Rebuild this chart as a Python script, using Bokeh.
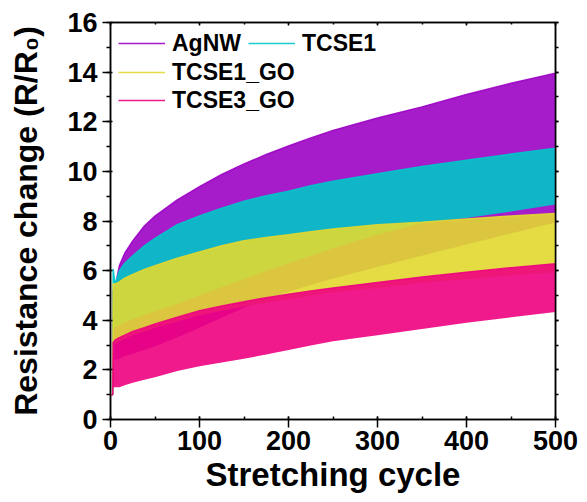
from bokeh.plotting import figure
from bokeh.models import (Range1d, LinearAxis, SingleIntervalTicker, Legend, LegendItem,
                          CustomJSTickFormatter)
from bokeh.embed import file_html
from bokeh.resources import INLINE

# ---- data ----
cycles = [0, 2.5, 3, 5, 10, 16, 25, 38, 50, 75, 100, 125, 150, 175, 200, 225, 250, 300, 350, 400, 450, 500]

agnw_low = [1, 1, 2.4, 2.4, 2.45, 2.55, 2.65, 2.8, 2.95, 3.3, 3.7, 4.1, 4.5, 4.85, 5.15, 5.42, 5.68, 6.15, 6.6, 7.05, 7.5, 7.94]
agnw_high = [1, 1, 5.2, 5.3, 6.2, 6.7, 7.2, 7.8, 8.2, 8.85, 9.38, 9.88, 10.3, 10.68, 11.02, 11.35, 11.65, 12.15, 12.6, 13.1, 13.55, 13.96]

tcse1_low = [1, 1, 3.7, 3.72, 3.8, 3.9, 4.05, 4.2, 4.35, 4.67, 5.0, 5.33, 5.65, 5.98, 6.3, 6.6, 6.9, 7.45, 7.92, 8.12, 8.38, 8.67]
tcse1_high = [1, 1, 6.07, 5.45, 6.0, 6.3, 6.6, 7.0, 7.3, 7.85, 8.2, 8.52, 8.8, 9.02, 9.2, 9.42, 9.6, 9.9, 10.2, 10.45, 10.7, 10.93]

tcse1go_low = [1, 1, 3.05, 3.05, 3.15, 3.25, 3.4, 3.55, 3.7, 3.95, 4.2, 4.38, 4.55, 4.7, 4.85, 4.99, 5.12, 5.3, 5.5, 5.65, 5.8, 5.92]
tcse1go_high = [1, 1, 5.48, 5.45, 5.55, 5.7, 5.85, 6.05, 6.2, 6.5, 6.75, 7.0, 7.2, 7.34, 7.45, 7.57, 7.68, 7.85, 7.95, 8.08, 8.2, 8.3]

tcse3go_low = [1, 1, 1.3, 1.3, 1.3, 1.38, 1.48, 1.6, 1.7, 1.95, 2.15, 2.3, 2.45, 2.62, 2.8, 2.98, 3.15, 3.4, 3.65, 3.9, 4.12, 4.33]
tcse3go_high = [1, 1, 3.1, 3.2, 3.3, 3.4, 3.55, 3.7, 3.85, 4.12, 4.38, 4.57, 4.75, 4.91, 5.05, 5.18, 5.3, 5.52, 5.74, 5.93, 6.12, 6.28]

names = ["AgNW", "TCSE1", "TCSE1_GO", "TCSE3_GO"]
colors = ["#9c02c4", "#00c7c8", "#e2d830", "#ee017f"]
lows = [agnw_low, tcse1_low, tcse1go_low, tcse3go_low]
highs = [agnw_high, tcse1_high, tcse1go_high, tcse3go_high]

FONT = "Liberation Sans"

p = figure(width=587, height=502, output_backend="svg", toolbar_location=None,
           x_range=Range1d(0, 500), y_range=Range1d(0, 16),
           min_border_left=110, min_border_right=32, min_border_top=22, min_border_bottom=83)
p.grid.visible = False
p.outline_line_color = "black"
p.outline_line_width = 1.5

lines = []
for name, c, lo, hi in zip(names, colors, lows, highs):
    p.varea(x=cycles, y1=lo, y2=hi, fill_color=c, fill_alpha=0.9)
    r = p.line(x=cycles, y=hi, line_color=c, line_width=1.5, line_alpha=0.9)
    lines.append(r)

# axes
xa = p.xaxis[0]
ya = p.yaxis[0]
xa.ticker = SingleIntervalTicker(interval=100, num_minor_ticks=2)
ya.ticker = SingleIntervalTicker(interval=2, num_minor_ticks=2)
for ax in (xa, ya):
    ax.axis_line_width = 1.5
    ax.major_tick_line_width = 1.5
    ax.minor_tick_line_width = 1.5
    ax.axis_line_color = "black"
    ax.major_tick_line_color = "black"
    ax.minor_tick_line_color = "black"
    ax.major_label_text_font = FONT
    ax.major_label_text_font_style = "bold"
    ax.major_label_text_font_size = "27px"
    ax.major_label_text_color = "black"
    ax.axis_label_text_font = FONT
    ax.axis_label_text_font_style = "bold"
    ax.axis_label_text_color = "black"

xa.axis_label = "Stretching cycle"
xa.axis_label_text_font_size = "33px"
xa.major_tick_out = 8
xa.major_tick_in = 3
xa.minor_tick_out = 0
xa.minor_tick_in = 3
xa.major_label_standoff = 3
xa.axis_label_standoff = 3

ya.axis_label = "Resistance change (R/R\u2080)"
ya.axis_label_text_font_size = "32px"
ya.major_tick_out = 8
ya.major_tick_in = 2
ya.minor_tick_out = 4
ya.minor_tick_in = 0
ya.major_label_standoff = 5
ya.axis_label_standoff = 20

blank = CustomJSTickFormatter(code="return ''")
top = LinearAxis(ticker=SingleIntervalTicker(interval=100, num_minor_ticks=2), formatter=blank,
                 major_tick_in=3, major_tick_out=0, minor_tick_in=2, minor_tick_out=0,
                 axis_line_width=1.5, major_tick_line_width=1.5, minor_tick_line_width=1.5,
                 major_label_standoff=0)
right = LinearAxis(ticker=SingleIntervalTicker(interval=2, num_minor_ticks=2), formatter=blank,
                   major_tick_in=0, major_tick_out=3, minor_tick_in=0, minor_tick_out=3,
                   axis_line_width=1.5, major_tick_line_width=1.5, minor_tick_line_width=1.5,
                   major_label_standoff=0)
p.add_layout(top, "above")
p.add_layout(right, "right")

leg_style = dict(label_text_font=FONT, label_text_font_style="bold", label_text_font_size="23px",
                 label_text_color="black", glyph_width=47, glyph_height=28, label_height=28,
                 label_standoff=7, padding=0, margin=0, border_line_color=None,
                 background_fill_alpha=0)
leg1 = Legend(items=[LegendItem(label=names[0], renderers=[lines[0]]),
                     LegendItem(label=names[1], renderers=[lines[1]])],
              orientation="horizontal", location=(8, 362), spacing=7, **leg_style)
leg2 = Legend(items=[LegendItem(label=names[2], renderers=[lines[2]]),
                     LegendItem(label=names[3], renderers=[lines[3]])],
              orientation="vertical", location=(8, 305), spacing=0, **leg_style)
p.add_layout(leg1)
p.add_layout(leg2)

open("out.html", "w").write(file_html(p, INLINE))
